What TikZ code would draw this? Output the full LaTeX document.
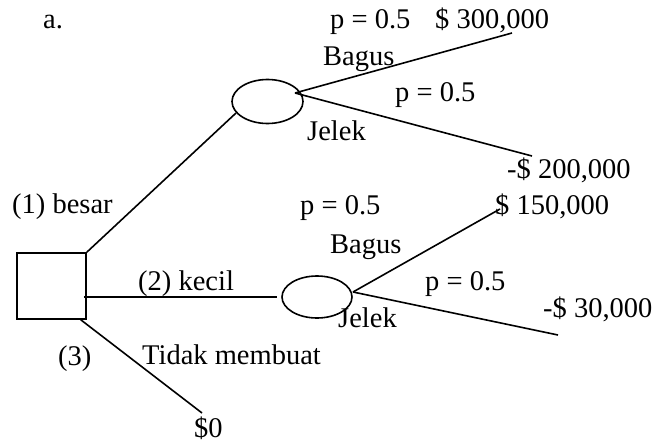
\documentclass[tikz,border=0pt]{standalone}
\usepackage{fontspec}
\setmainfont{Liberation Serif}
\usetikzlibrary{shapes.geometric}
\begin{document}
\begin{tikzpicture}[x=1pt,y=-1pt,
  line/.style={draw=black,line width=1.6pt},
  decision/.style={draw=black,line width=1.6pt,rectangle,minimum width=69pt,minimum height=66pt,inner sep=0pt},
  chance/.style={draw=black,line width=1.6pt,ellipse,minimum width=71pt,minimum height=44pt,inner sep=0pt},
  lbl/.style={anchor=base west,inner sep=0pt,font=\fontsize{28.5}{32}\selectfont}]
\useasboundingbox (0,0) rectangle (652,444);
% nodes
\node[decision] (sq) at (51.5,286) {};
\node[chance] (e1) at (267.5,101.5) {};
\node[chance,minimum width=70pt,minimum height=42pt] (e2) at (317,297) {};
% branch points and ends
\coordinate (j1) at (295,93);
\coordinate (t1) at (512,33);
\coordinate (t2) at (532,156);
\coordinate (j2) at (353,292);
\coordinate (t3) at (500,209);
\coordinate (t4) at (558,335);
\coordinate (t5) at (202,413);
% connectors
\draw[line] (sq.north east) -- (e1.200);
\draw[line] ([xshift=-3pt]sq.east |- e2.west) -- ([xshift=-4pt]e2.west);
\draw[line] ([xshift=-6pt]sq.south east) -- (t5);
\draw[line] (j1) -- (t1);
\draw[line] (j1) -- (t2);
\draw[line] (j2) -- (t3);
\draw[line] (j2) -- (t4);
% labels
\node[lbl] (la) at (43,29) {a.};
\node[lbl] (p1) at (330,29) {p = 0.5};
\node[lbl] (v1) at (435,29) {\$ 300,000};
\node[lbl] (bg1) at (323,65) {Bagus};
\node[lbl] (p2) at (395,101) {p = 0.5};
\node[lbl] (jl1) at (307,140) {Jelek};
\node[lbl] (v2) at (507,178) {-\$ 200,000};
\node[lbl] (b1) at (12,213) {(1) besar};
\node[lbl] (p3) at (300,214) {p = 0.5};
\node[lbl] (v3) at (495,214) {\$ 150,000};
\node[lbl] (bg2) at (330,253) {Bagus};
\node[lbl] (p4) at (425,290) {p = 0.5};
\node[lbl] (k2) at (138,290) {(2) kecil};
\node[lbl] (v4) at (543,317) {-\$ 30,000};
\node[lbl] (jl2) at (338,327) {Jelek};
\node[lbl] (n3) at (58,365) {(3)};
\node[lbl] (tm) at (142,364) {Tidak membuat};
\node[lbl] (z) at (194,437) {\$0};
\end{tikzpicture}
\end{document}
